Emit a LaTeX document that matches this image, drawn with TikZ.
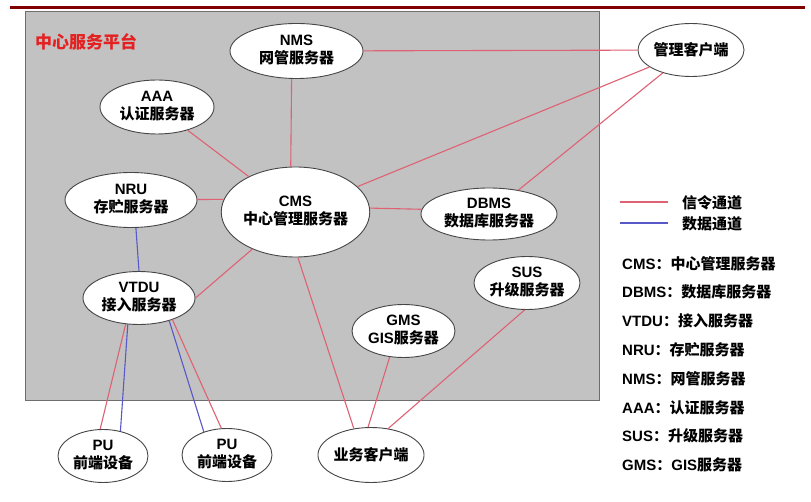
\documentclass[tikz,border=0pt]{standalone}
\usepackage{fontspec}
\setmainfont{Liberation Sans}
\newfontfamily\cjk{Noto Sans CJK SC}
\usetikzlibrary{shapes.geometric}
\newcommand\zh[1]{{\cjk\bfseries #1}}
\newcommand\lat[1]{\textbf{#1}}
% two centred lines inside a server ellipse
\newcommand\twolines[2]{\begin{tabular}{@{}c@{}}#1\\[-1pt]#2\end{tabular}}
\definecolor{topbar}{RGB}{128,0,0}
\definecolor{platgray}{RGB}{194,194,194}
\definecolor{platedge}{RGB}{110,110,110}
\definecolor{ellgray}{RGB}{70,70,70}
\definecolor{sigred}{RGB}{222,98,115}
\definecolor{datblue}{RGB}{88,88,200}
\definecolor{titlered}{RGB}{228,32,32}
\begin{document}
\begin{tikzpicture}[x=1pt,y=-1pt,
  srv/.style={ellipse, draw=ellgray, line width=0.9pt, fill=white, inner sep=0pt,
    font=\bfseries\fontsize{15}{18}\selectfont},
  sig/.style={draw=sigred, line width=1.1pt},
  dat/.style={draw=datblue, line width=1.1pt},
  keytext/.style={anchor=west, inner sep=0pt, font=\bfseries\fontsize{15}{18}\selectfont}]
\useasboundingbox (0,0) rectangle (811,502);
\fill[white] (0,0) rectangle (811,502);

% header rule and platform area
\fill[topbar] (10,6.5) rectangle (805,9.5);
\draw[platedge, fill=platgray, line width=0.8pt] (25,11) rectangle (599,400);
\node[anchor=west, inner sep=0pt, text=titlered, font=\fontsize{17}{20}\selectfont]
  (title) at (35,42) {\zh{中心服务平台}};

% servers
\node[srv, minimum width=133, minimum height=55] (nms) at (296.5,51) {\twolines{\lat{NMS}}{\zh{网管服务器}}};
\node[srv, minimum width=114, minimum height=54] (aaa) at (157,107) {\twolines{\lat{AAA}}{\zh{认证服务器}}};
\node[srv, minimum width=132, minimum height=55] (nru) at (131,200) {\twolines{\lat{NRU}}{\zh{存贮服务器}}};
\node[srv, minimum width=133, minimum height=90] (cms) at (295.5,212) {\twolines{\lat{CMS}}{\zh{中心管理服务器}}};
\node[srv, minimum width=136, minimum height=52] (dbms) at (489,214) {\twolines{\lat{DBMS}}{\zh{数据库服务器}}};
\node[srv, minimum width=91, minimum height=53] (mgr) at (691,50) {\zh{管理客户端}};
\node[srv, minimum width=112, minimum height=53] (vtdu) at (139,298) {\twolines{\lat{VTDU}}{\zh{接入服务器}}};
\node[srv, minimum width=104, minimum height=53] (sus) at (527,283) {\twolines{\lat{SUS}}{\zh{升级服务器}}};
\node[srv, minimum width=103, minimum height=53] (gms) at (403.5,331) {\twolines{\lat{GMS}}{\lat{GIS}\zh{服务器}}};
\node[srv, minimum width=90, minimum height=53] (pu1) at (103,456) {\twolines{\lat{PU}}{\zh{前端设备}}};
\node[srv, minimum width=90, minimum height=53] (pu2) at (227,455) {\twolines{\lat{PU}}{\zh{前端设备}}};
\node[srv, minimum width=92, minimum height=55] (biz) at (371,455) {\zh{业务客户端}};

% signalling links
\draw[sig] (nms) -- (mgr);
\draw[sig] (nms.-100) -- (cms.96);
\draw[sig] (aaa) -- (cms);
\draw[sig] (nru) -- (cms.170);
\draw[sig] (cms) -- (mgr);
\draw[sig] (cms.3) -- (dbms.176);
\draw[sig] (dbms) -- (mgr);
\draw[sig] (cms) -- (vtdu.east);
\draw[sig] (cms.-87) -- (biz.123);
\draw[sig] (gms.-118) -- (biz.96);
\draw[sig] (sus.-95) -- (biz.57);
\draw[sig] (vtdu.-117) -- (pu1.96);
\draw[sig] (vtdu.-33) -- (pu2.102);

% data links
\draw[dat] (nru.-80) -- (vtdu.north);
\draw[dat] (vtdu.-113) -- (pu1.55);
\draw[dat] (vtdu.-37) -- (pu2.135);

% key
\coordinate (ks1) at (620,202);
\coordinate (ks2) at (668,202);
\coordinate (kd1) at (620,223);
\coordinate (kd2) at (668,223);
\draw[sig] (ks1) -- (ks2);
\draw[dat] (kd1) -- (kd2);
\node[keytext] (ksig) at (682,203) {\zh{信令通道}};
\node[keytext] (kdat) at (682,224) {\zh{数据通道}};
\node[keytext] (k1) at (622,264) {\lat{CMS}\zh{：中心管理服务器}};
\node[keytext] (k2) at (622,292) {\lat{DBMS}\zh{：数据库服务器}};
\node[keytext] (k3) at (622,321) {\lat{VTDU}\zh{：接入服务器}};
\node[keytext] (k4) at (622,350) {\lat{NRU}\zh{：存贮服务器}};
\node[keytext] (k5) at (622,379) {\lat{NMS}\zh{：网管服务器}};
\node[keytext] (k6) at (622,408) {\lat{AAA}\zh{：认证服务器}};
\node[keytext] (k7) at (622,436) {\lat{SUS}\zh{：升级服务器}};
\node[keytext] (k8) at (622,465) {\lat{GMS}\zh{：}\lat{GIS}\zh{服务器}};
\end{tikzpicture}
\end{document}
